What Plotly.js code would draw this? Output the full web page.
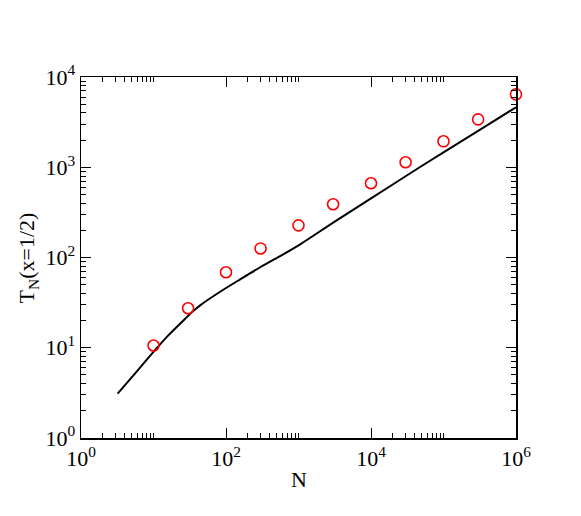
<!DOCTYPE html>
<html>
<head>
<meta charset="utf-8">
<script src="https://cdn.plot.ly/plotly-3.0.1.min.js"></script>
<style>
  body { margin: 0; }
  div.p { position: absolute; left: 0; top: 0; width: 581px; height: 516px; }
</style>
</head>
<body>
<div class="p" id="plot"></div>
<script>
'use strict'

// simulation points (red circles)
var simN = [10, 30, 100, 300, 1000, 3000, 1e4, 3e4, 1e5, 3e5, 1e6];
var simT = [10.6, 27.4, 68.6, 126, 227, 389, 664, 1135, 1938, 3388, 6412];

// theory curve (black line)
var curveN = [3.2, 5, 10, 16, 27.4, 35, 44, 83, 157, 296, 558, 1055, 3160, 1e4, 47500, 1e5, 3.16e5, 1e6];
var curveT = [3.1, 4.7, 9.0, 13.7, 21.0, 25.3, 29.5, 41.7, 57.3, 78, 103.6, 140, 250, 451, 1006, 1459, 2594, 4616];

var xTickVals = [1, 100, 1e4, 1e6];
var xTickText = ['10<sup>0</sup>', '10<sup>2</sup>', '10<sup>4</sup>', '10<sup>6</sup>'];
var yTickVals = [1, 10, 100, 1000, 1e4];
var yTickText = ['10<sup>0</sup>', '10<sup>1</sup>', '10<sup>2</sup>', '10<sup>3</sup>', '10<sup>4</sup>'];

function minorList(decades, from, to) {
  var out = [];
  for (var d = 0; d < decades.length; d++) {
    for (var k = from; k <= to; k++) out.push(k * decades[d]);
  }
  return out;
}
var xMinor = minorList([1, 100, 1e4], 2, 10);
var yMinor = minorList([1, 10, 100, 1000], 2, 9);

var font = 'Liberation Serif, Times New Roman, serif';

function axis(vals, text, mv, rng) {
  return {
    type: 'log', range: rng,
    tickmode: 'array', tickvals: vals, ticktext: text,
    ticks: 'inside', ticklen: 10, tickwidth: 1, tickcolor: 'black',
    showline: true, linecolor: 'black', linewidth: 1.5, mirror: 'allticks',
    showgrid: false, zeroline: false, automargin: false,
    tickfont: { family: font, size: 22, color: 'black' },
    minor: { tickmode: 'array', tickvals: mv, ticks: 'inside', ticklen: 5, tickwidth: 1, tickcolor: 'black', showgrid: false }
  };
}

var curve = {
  type: 'scatter', x: curveN, y: curveT, mode: 'lines',
  line: { color: 'black', width: 2, shape: 'spline', smoothing: 0.8 }
};
var pts = {
  type: 'scatter', x: simN, y: simT, mode: 'markers',
  marker: { symbol: 'circle-open', size: 11, color: 'red', line: { color: 'red', width: 1.6 } },
  cliponaxis: false
};

var titles = [
  { text: 'N', xref: 'paper', yref: 'paper', x: 0.5, y: -0.114,
    xanchor: 'center', yanchor: 'middle', showarrow: false,
    font: { family: font, size: 22, color: 'black' } },
  { text: 'T<sub>N</sub>(x=1/2)', xref: 'paper', yref: 'paper', x: -0.122, y: 0.5,
    xanchor: 'center', yanchor: 'middle', textangle: -90, showarrow: false,
    font: { family: font, size: 22, color: 'black' } }
];

Plotly.newPlot('plot', [curve, pts], {
  width: 581, height: 516,
  margin: { l: 81, r: 65, t: 77, b: 78 },
  showlegend: false,
  xaxis: axis(xTickVals, xTickText, xMinor, [0, 6]),
  yaxis: axis(yTickVals, yTickText, yMinor, [0, 4]),
  annotations: titles
}, { staticPlot: true });
</script>
</body>
</html>
